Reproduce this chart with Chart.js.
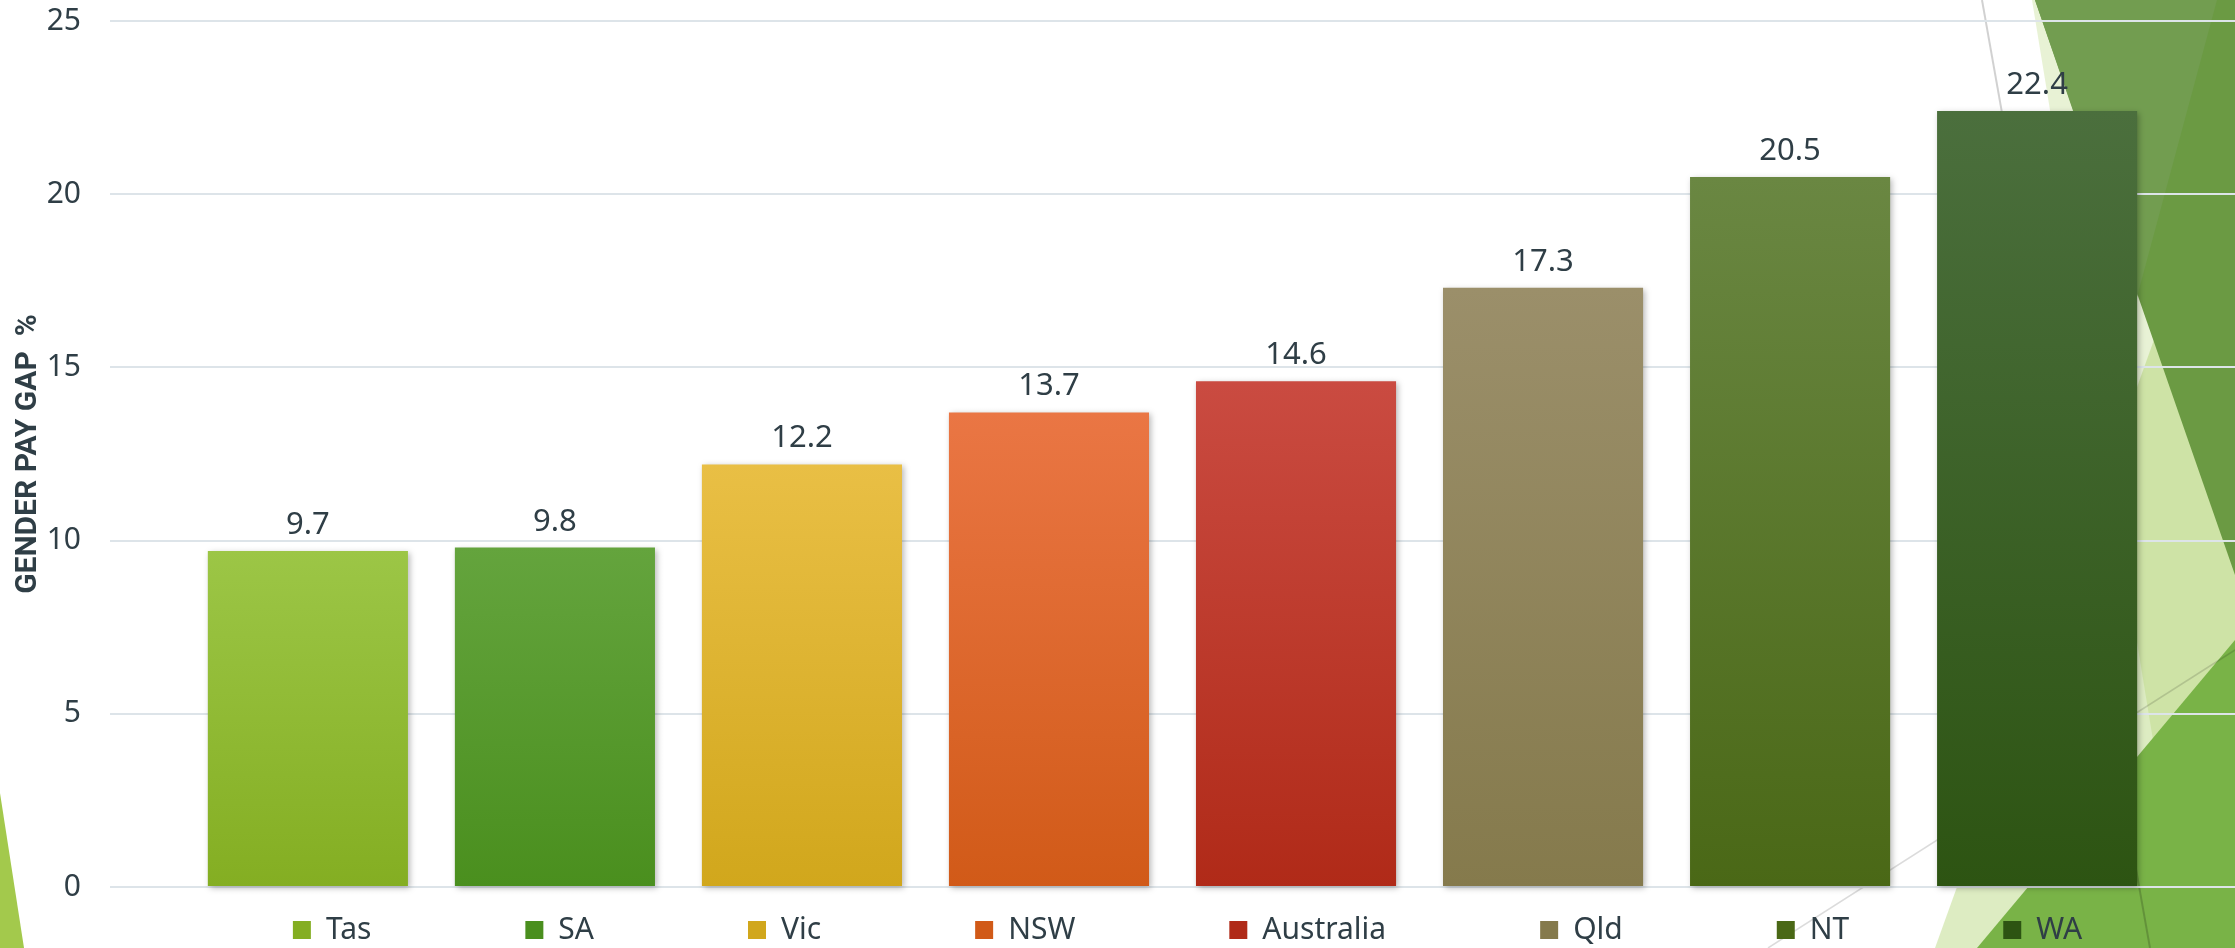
<!DOCTYPE html>
<html><head><meta charset="utf-8">
<script src="https://cdn.jsdelivr.net/npm/chart.js@4.4.1/dist/chart.umd.min.js"></script>
<style>html,body{margin:0;padding:0;background:#fff;overflow:hidden}#wrap{width:2235px;height:948px;position:relative}</style>
</head><body><div id="wrap"><canvas id="c"></canvas></div>
<script>
const categories = ['Tas', 'SA', 'Vic', 'NSW', 'Australia', 'Qld', 'NT', 'WA'];
const payGap = [9.7, 9.8, 12.2, 13.7, 14.6, 17.3, 20.5, 22.4];
const yTicks = [0, 5, 10, 15, 20, 25];
const yTitle = 'GENDER PAY GAP  %';
const colorsTop = ['#9cc646', '#64a43d', '#e9bf45', '#ea7644', '#ca4b41', '#9b8f6a', '#6a8742', '#4b6f3d'];
const colorsBottom = ['#84ae22', '#4a8f1e', '#d1a71c', '#d15a18', '#b02a18', '#857a4c', '#4a6816', '#2d5412'];

const TEXT = '#2f3e46';

function mix(a, b) {
  const p = h => [1, 3, 5].map(k => parseInt(h.substr(k, 2), 16));
  const x = p(a), y = p(b);
  return 'rgb(' + x.map((v, i) => Math.round((v + y[i]) / 2)).join(',') + ')';
}

const datasets = categories.map((name, i) => ({
  label: name,
  data: [payGap[i]],
  clip: 10,
  backgroundColor: (c) => {
    const chart = c.chart;
    if (c.type !== 'data' || !chart.chartArea) return mix(colorsTop[i], colorsBottom[i]);
    const y = chart.scales.y;
    const g = chart.ctx.createLinearGradient(0, y.getPixelForValue(c.raw), 0, y.getPixelForValue(0));
    g.addColorStop(0, colorsTop[i]);
    g.addColorStop(1, colorsBottom[i]);
    return g;
  }
}));

const decor = {
  id: 'decor',
  beforeDraw(chart) {
    const ctx = chart.ctx;
    const poly = (pts, fill) => {
      ctx.beginPath();
      pts.forEach((p, k) => k ? ctx.lineTo(p[0], p[1]) : ctx.moveTo(p[0], p[1]));
      ctx.closePath();
      ctx.fillStyle = fill;
      ctx.fill();
    };
    ctx.save();
    ctx.fillStyle = '#ffffff';
    ctx.fillRect(0, 0, chart.width, chart.height);
    poly([[0, 793], [24, 948], [0, 948]], '#a3c94c');
    poly([[2032, 0], [2235, 0], [2235, 948], [2187, 948]], 'rgba(158,200,80,0.24)');
    poly([[2235, 115], [2235, 948], [1935, 948]], 'rgba(158,200,80,0.35)');
    poly([[2035, 0], [2235, 0], [2235, 575]], '#6b9a43');
    poly([[2035, 0], [2217, 0], [2137, 297]], '#729d50');
    poly([[2235, 640], [2235, 948], [1977, 948]], '#79b347');
    ctx.lineWidth = 2;
    ctx.strokeStyle = 'rgba(0,0,0,0.18)';
    ctx.beginPath(); ctx.moveTo(1982, 0); ctx.lineTo(2150, 948); ctx.stroke();
    ctx.lineWidth = 1.5;
    ctx.strokeStyle = 'rgba(0,0,0,0.14)';
    ctx.beginPath(); ctx.moveTo(1768, 948); ctx.lineTo(2235, 650); ctx.stroke();
    ctx.restore();
  }
};

const barShadow = {
  id: 'barShadow',
  beforeDatasetsDraw(chart) {
    const ctx = chart.ctx;
    ctx.save();
    ctx.shadowColor = 'rgba(0,0,0,0.28)';
    ctx.shadowBlur = 6;
    ctx.shadowOffsetX = 2;
    ctx.shadowOffsetY = 2;
  },
  afterDatasetsDraw(chart) { chart.ctx.restore(); }
};

const valueLabels = {
  id: 'valueLabels',
  afterDatasetsDraw(chart) {
    const ctx = chart.ctx;
    ctx.save();
    ctx.font = "31px 'Noto Sans'";
    ctx.fillStyle = TEXT;
    ctx.textAlign = 'center';
    ctx.textBaseline = 'alphabetic';
    chart.data.datasets.forEach((ds, i) => {
      chart.getDatasetMeta(i).data.forEach((el, j) => {
        ctx.fillText(ds.data[j].toFixed(1), el.x, el.y - 17);
      });
    });
    ctx.restore();
  }
};

const legendPos = {
  id: 'legendPos',
  afterLayout(chart) {
    const lg = chart.legend;
    const pad = lg.options.labels.padding;
    lg.left = chart.chartArea.left - 35;
    lg.right = chart.width + 65;
    lg.top = chart.chartArea.bottom + 28 - pad;
  }
};

new Chart(document.getElementById('c'), {
  type: 'bar',
  data: { labels: [''], datasets },
  plugins: [decor, barShadow, valueLabels, legendPos],
  options: {
    responsive: true,
    maintainAspectRatio: false,
    animation: false,
    layout: { padding: { top: 21, right: 0, bottom: 0, left: 0 } },
    datasets: { bar: { categoryPercentage: 0.93, barPercentage: 0.81 } },
    scales: {
      x: { display: false },
      y: {
        min: yTicks[0],
        max: yTicks[yTicks.length - 1],
        ticks: { stepSize: yTicks[1] - yTicks[0], padding: 29, color: TEXT, font: { family: 'Noto Sans', size: 30 } },
        grid: { color: '#dde4e9', lineWidth: 2, drawTicks: false },
        border: { display: false },
        title: { display: true, text: yTitle, color: TEXT, font: { family: 'Roboto', weight: 'bold', size: 30 }, padding: { top: 10, bottom: 0 } },
        afterFit(s) { s.width = 110; s.paddingTop = 0; s.paddingBottom = 0; }
      }
    },
    plugins: {
      tooltip: { enabled: false },
      legend: {
        position: 'bottom',
        maxHeight: 61,
        labels: { color: TEXT, font: { family: 'Noto Sans', size: 30 }, boxWidth: 18, boxHeight: 18, padding: 154 }
      }
    }
  }
});
</script>
</body></html>
